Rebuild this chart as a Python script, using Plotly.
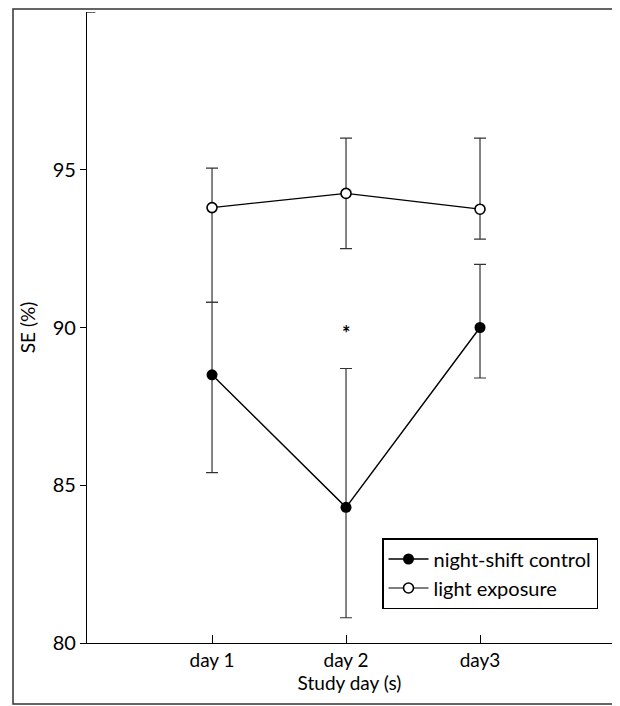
import plotly.graph_objects as go

days = [1, 2, 3]
day_labels = ["day 1", "day 2", "day3"]

night_mean = [88.5, 84.3, 90.0]
night_plus = [2.3, 4.4, 2.0]
night_minus = [3.1, 3.5, 1.6]

light_mean = [93.8, 94.25, 93.75]
light_plus = [1.25, 1.75, 2.25]
light_minus = [3.0, 1.75, 0.95]

y_ticks = [80, 85, 90, 95]

FONT = "Lato"

fig = go.Figure()
fig.add_trace(go.Scatter(
    x=days, y=night_mean, name="night-shift control", mode="lines+markers",
    line=dict(color="black", width=1.4),
    marker=dict(symbol="circle", size=11, color="black"),
    error_y=dict(type="data", symmetric=False, array=night_plus, arrayminus=night_minus,
                 color="#333333", thickness=1.2, width=6),
))
fig.add_trace(go.Scatter(
    x=days, y=light_mean, name="light exposure", mode="lines+markers",
    line=dict(color="black", width=1.2),
    marker=dict(symbol="circle", size=10, color="white", line=dict(color="black", width=1.6)),
    error_y=dict(type="data", symmetric=False, array=light_plus, arrayminus=light_minus,
                 color="#333333", thickness=1.2, width=6),
))

fig.add_annotation(x=2, y=90.0, text="<b>*</b>", showarrow=False,
                   font=dict(family=FONT, size=20, color="black"), yshift=-5)

# top inward tick on y axis
fig.add_shape(type="line", xref="paper", yref="y", x0=0, x1=0.016, y0=100, y1=100,
              line=dict(color="black", width=1.2))

# outer frame
fig.add_shape(type="rect", xref="paper", yref="paper",
              x0=-74/525, x1=528/525, y0=-61/631, y1=1 + 3/631,
              line=dict(color="#333333", width=1.5))

fig.update_layout(
    width=612, height=698,
    margin=dict(l=79, r=8, t=4, b=63),
    paper_bgcolor="white", plot_bgcolor="white",
    font=dict(family=FONT, color="black"),
    showlegend=True,
    legend=dict(x=295/525, y=105/631, xanchor="left", yanchor="top",
                bordercolor="black", borderwidth=1.5, bgcolor="white",
                font=dict(family=FONT, size=20, color="black"),
                itemwidth=40, tracegroupgap=0),
    xaxis=dict(range=[0.067, 3.985], tickvals=days, ticktext=day_labels,
               ticks="inside", ticklen=8, tickcolor="black",
               showline=True, linecolor="black", linewidth=1.2,
               showgrid=False, zeroline=False,
               tickfont=dict(family=FONT, size=19, color="black"),
               title=dict(text="Study day (s)", font=dict(family=FONT, size=19, color="black"),
                          standoff=0)),
    yaxis=dict(range=[80, 100], tickvals=y_ticks,
               ticks="outside", ticklen=6, tickcolor="black",
               showline=True, linecolor="black", linewidth=1.2,
               showgrid=False, zeroline=False,
               tickfont=dict(family=FONT, size=20, color="black"),
               title=dict(text="SE (%)", font=dict(family=FONT, size=19, color="black"),
                          standoff=12)),
)

fig.write_html("out.html")
